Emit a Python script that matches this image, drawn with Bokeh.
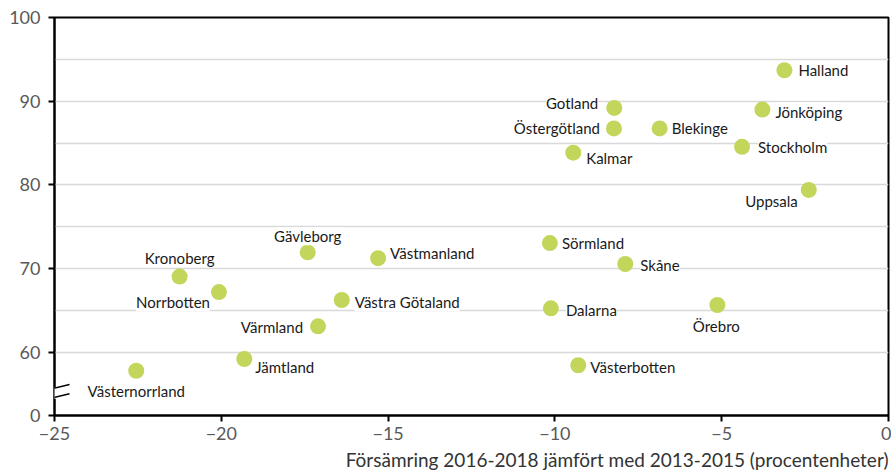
from bokeh.plotting import figure
from bokeh.models import (ColumnDataSource, LabelSet, FixedTicker, Arrow, Title)
from bokeh.core.properties import value
from bokeh.embed import file_html
from bokeh.resources import INLINE

# ---- data ----
regions = ["Halland", "Gotland", "Östergötland", "Blekinge", "Jönköping", "Stockholm",
           "Kalmar", "Uppsala", "Kronoberg", "Norrbotten", "Gävleborg", "Västmanland",
           "Västra Götaland", "Värmland", "Jämtland", "Västernorrland", "Sörmland",
           "Skåne", "Dalarna", "Örebro", "Västerbotten"]
change = [-3.12, -8.22, -8.23, -6.86, -3.78, -4.39,
          -9.45, -2.39, -21.25, -20.07, -17.41, -15.30,
          -16.39, -17.10, -19.31, -22.55, -10.15,
          -7.89, -10.12, -5.13, -9.30]
share = [93.7, 89.2, 86.75, 86.75, 89.0, 84.55,
         83.85, 79.4, 69.05, 67.2, 71.95, 71.25,
         66.25, 63.1, 59.2, 57.8, 73.05,
         70.55, 65.25, 65.65, 58.45]
x_ticks = [-25, -20, -15, -10, -5, 0]
y_ticks = [60, 70, 80, 90, 100]
y_grid = [60, 65, 70, 75, 80, 85, 90, 95]
x_title = "Försämring 2016-2018 jämfört med 2013-2015 (procentenheter)"

# ---- label placement (style) ----
align = ["left", "right", "right", "left", "left", "left",
         "left", "right", "center", "right", "center", "left",
         "left", "right", "left", "center", "left",
         "left", "left", "center", "left"]
dx = [14, -16, -14, 12, 13, 16,
      13, -11, 0, -9, 0, 12,
      13, -15, 11, 0, 12,
      15, 15, -1, 12]
dy = [0, -5, 0, 0, 2, 0,
      5, 11, -19, 10, -16, -5,
      2, 1, 8, 20, 0,
      1, 2, 21, 2]

# Broken axis: value shown as "0"
Y0 = 52.45
BRK = 55.15

FONT = "Lato"

src = ColumnDataSource(dict(x=change, y=share, name=regions, align=align,
                            dx=dx, dy=[-v for v in dy]))

p = figure(width=891, height=474, x_range=(-25, 0), y_range=(Y0, 100),
           output_backend="svg", toolbar_location=None,
           min_border_left=54, min_border_right=3, min_border_top=17, min_border_bottom=58)
p.background_fill_color = "white"
p.border_fill_color = "white"
p.outline_line_color = "black"
p.outline_line_width = 2

p.xgrid.visible = False
p.ygrid.ticker = FixedTicker(ticks=y_grid)
p.ygrid.grid_line_color = "#d9d9d9"
p.ygrid.grid_line_width = 1.3

for ax in (p.xaxis[0], p.yaxis[0]):
    ax.axis_line_color = "black"
    ax.axis_line_width = 2
    ax.major_tick_line_color = "black"
    ax.major_tick_line_width = 2
    ax.major_tick_in = 0
    ax.major_tick_out = 6
    ax.minor_tick_line_color = None
    ax.major_label_text_font = FONT
    ax.major_label_text_font_size = "18px"
    ax.major_label_text_color = "#595959"

p.xaxis.ticker = FixedTicker(ticks=x_ticks)
p.xaxis.major_label_standoff = 5
p.yaxis.ticker = FixedTicker(ticks=[Y0] + y_ticks)
p.yaxis.major_label_overrides = {Y0: "0"}
p.yaxis.major_label_standoff = 8

p.scatter("x", "y", source=src, size=16, color="#c3d65b", line_color=None)

labels = LabelSet(x="x", y="y", text="name", source=src, x_offset="dx", y_offset="dy",
                  text_align="align", text_baseline="middle",
                  text_font=value(FONT), text_font_size=value("15px"),
                  text_color="#1a1a1a", background_fill_color="white")
p.add_layout(labels)

# axis break marks
xs0 = -25 - 16 / 33.36
xs1 = -25 + 15 / 33.36
p.add_layout(Arrow(end=None, x_start=-25, y_start=BRK - 0.7, x_end=-25, y_end=BRK + 0.65,
                   line_color="white", line_width=5))
for off in (0.55, -0.55):
    p.add_layout(Arrow(end=None, x_start=xs0, y_start=BRK + off - 0.45,
                       x_end=xs1, y_end=BRK + off + 0.45,
                       line_color="black", line_width=1.6))

t = Title(text=x_title, align="right", text_font=FONT, text_font_size="19px",
          text_font_style="normal", text_color="#333333", standoff=7)
p.add_layout(t, "below")

open("out.html", "w").write(file_html(p, INLINE))
